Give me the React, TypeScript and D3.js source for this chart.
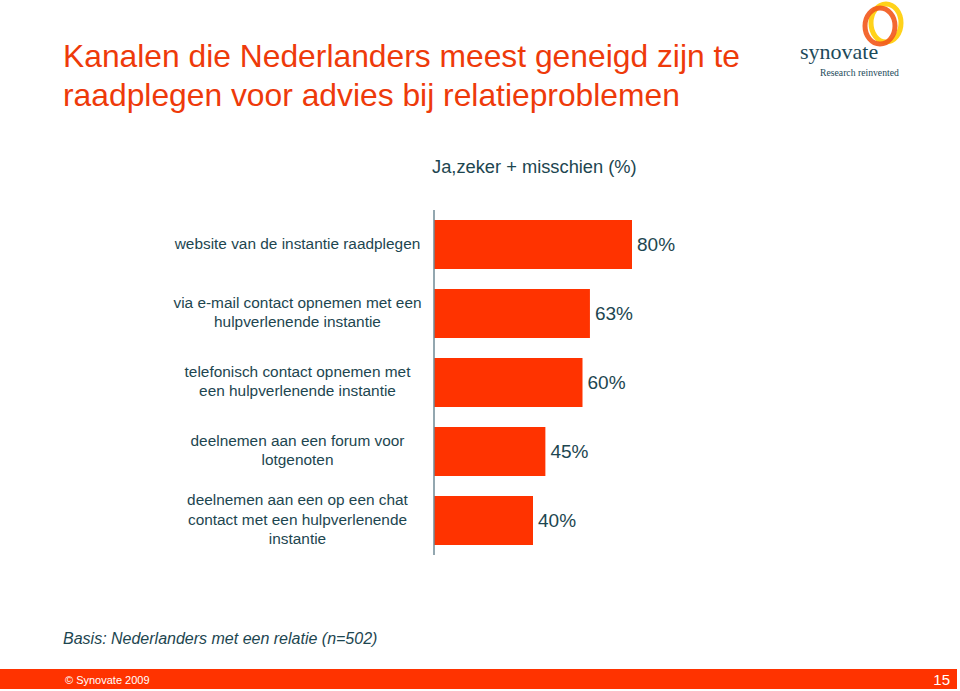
import React from "react";
import * as d3 from "d3";

const categories: string[][] = [
  ["website van de instantie raadplegen"],
  ["via e-mail contact opnemen met een", "hulpverlenende instantie"],
  ["telefonisch contact opnemen met", "een hulpverlenende instantie"],
  ["deelnemen aan een forum voor", "lotgenoten"],
  ["deelnemen aan een op een chat", "contact met een hulpverlenende", "instantie"],
];
const values: number[] = [80, 63, 60, 45, 40];
const titleLines: string[] = [
  "Kanalen die Nederlanders meest geneigd zijn te",
  "raadplegen voor advies bij relatieproblemen",
];
const subtitle = "Ja,zeker + misschien (%)";
const basis = "Basis: Nederlanders met een relatie (n=502)";
const footerLeft = "© Synovate 2009";
const pageNum = "15";

const W = 960;
const H = 691;
const TEXT = "#1d4650";
const ORANGE = "#ff3300";
const FONT = "'Liberation Sans', Arial, Helvetica, sans-serif";

export default function App() {
  const x = d3.scaleLinear().domain([0, 100]).range([434, 681.5]);
  const y = d3
    .scaleBand<number>()
    .domain(values.map((_, i) => i))
    .range([210, 555])
    .paddingInner(0.29)
    .paddingOuter(0.145);
  const lh = 19.5;

  return (
    <svg
      width={W}
      height={H}
      style={{ position: "absolute", left: 0, top: 0, background: "#fff" }}
      fontFamily={FONT}
    >
      <rect x={0} y={0} width={W} height={H} fill="#fff" />
      {/* title */}
      {titleLines.map((t, i) => (
        <text key={i} x={63} y={67 + i * 39} fontSize={31.8} fill="#ee3a0a">
          {t}
        </text>
      ))}
      {/* logo */}
      <g>
        <ellipse cx={886} cy={23} rx={15} ry={19} fill="none" stroke="#ffd21a" strokeWidth={5} />
        <ellipse cx={880} cy={26} rx={15} ry={18} fill="none" stroke="#f2581b" strokeWidth={5} opacity={0.9} />
        <text x={800} y={59} fontSize={22} fontFamily="'Liberation Serif', 'DejaVu Serif', serif" fill="#1d4a5a">
          synovate
        </text>
        <text x={820} y={76} fontSize={9.7} fontFamily="'Liberation Serif', 'DejaVu Serif', serif" fill="#1d4a5a">
          Research reinvented
        </text>
      </g>
      {/* subtitle */}
      <text x={432} y={173} fontSize={18.3} fill={TEXT}>
        {subtitle}
      </text>
      {/* bars */}
      {values.map((v, i) => (
        <rect
          key={i}
          x={x(0)}
          y={y(i)!}
          width={x(v) - x(0)}
          height={y.bandwidth()}
          fill={ORANGE}
        />
      ))}
      {/* axis line */}
      <line x1={434} x2={434} y1={210} y2={555} stroke="#6f8a96" strokeWidth={1.5} />
      {/* value labels */}
      {values.map((v, i) => (
        <text
          key={i}
          x={x(v) + 5}
          y={y(i)! + y.bandwidth() / 2 + 1}
          dominantBaseline="middle"
          fontSize={19}
          fill={TEXT}
        >
          {v}%
        </text>
      ))}
      {/* category labels */}
      {categories.map((lines, i) => {
        const cy = y(i)! + y.bandwidth() / 2;
        const start = cy - ((lines.length - 1) * lh) / 2;
        return (
          <g key={i}>
            {lines.map((l, j) => (
              <text
                key={j}
                x={297.5}
                y={start + j * lh}
                textAnchor="middle"
                dominantBaseline="middle"
                fontSize={15.4}
                fill={TEXT}
              >
                {l}
              </text>
            ))}
          </g>
        );
      })}
      {/* basis */}
      <text x={63} y={644} fontSize={16} fontStyle="italic" fill={TEXT}>
        {basis}
      </text>
      {/* footer */}
      <rect x={0} y={669} width={957} height={20} fill={ORANGE} />
      <text x={65} y={684} fontSize={11} fill="#fff">
        {footerLeft}
      </text>
      <text x={950} y={685} fontSize={15} fill="#fff" textAnchor="end">
        {pageNum}
      </text>
    </svg>
  );
}
